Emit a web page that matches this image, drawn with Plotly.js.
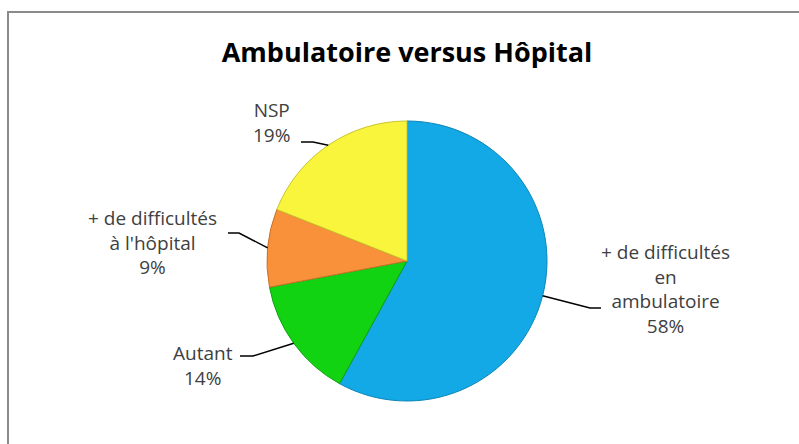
<!DOCTYPE html>
<html>
<head>
<meta charset="utf-8">
<script src="https://cdn.plot.ly/plotly-3.0.1.min.js"></script>
<style>
html,body{margin:0;padding:0;background:#fff;overflow:hidden;}
#chart{width:799px;height:444px;}
</style>
</head>
<body>
<div id="chart"></div>
<script>
// Data
const categories = ["+ de difficultés<br>en<br>ambulatoire", "Autant", "+ de difficultés<br>à l'hôpital", "NSP"];
const values = [58, 14, 9, 19];
const colors = ["#12a9e6", "#12d312", "#f8913a", "#f8f53c"];
const lineColors = ["#0b86b8", "#0ea00e", "#c8702a", "#c9c42a"];

const W = 799, H = 444;
const cx = 407, cy = 261, R = 140;
const px = x => x / W;
const py = y => 1 - y / H;

// label layout (text centre, elbow point, line start near text)
const labelLayout = [
  {tx: 665, ty: 289, start: [601, 308], elbow: [590, 308]},
  {tx: 203, ty: 365, start: [240, 356], elbow: [253, 356]},
  {tx: 152, ty: 243, start: [228, 233], elbow: [239, 233]},
  {tx: 271, ty: 122, start: [301, 142], elbow: [313, 142]}
];

const total = values.reduce((a, b) => a + b, 0);
let cum = 0;
const shapes = [];
const annotations = [];
values.forEach((v, i) => {
  const mid = (cum + v / 2) / total * 2 * Math.PI; // clockwise from top
  cum += v;
  const ex = cx + R * Math.sin(mid);
  const ey = cy - R * Math.cos(mid);
  const L = labelLayout[i];
  shapes.push({
    type: "path", xref: "paper", yref: "paper",
    path: `M ${px(L.start[0])} ${py(L.start[1])} L ${px(L.elbow[0])} ${py(L.elbow[1])} L ${px(ex)} ${py(ey)}`,
    line: {color: "#000000", width: 1.5}
  });
  annotations.push({
    xref: "paper", yref: "paper", x: px(L.tx), y: py(L.ty),
    xanchor: "center", yanchor: "middle", align: "center",
    showarrow: false,
    text: categories[i] + "<br>" + v + "%",
    font: {family: "Open Sans, sans-serif", size: 19, color: "#404040"}
  });
});

// frame
shapes.push({type: "line", xref: "paper", yref: "paper", x0: px(7), x1: px(800), y0: py(12), y1: py(12), line: {color: "#8a8a8a", width: 2}});
shapes.push({type: "line", xref: "paper", yref: "paper", x0: px(8), x1: px(8), y0: py(11), y1: py(445), line: {color: "#8a8a8a", width: 2}});

const trace = {
  type: "pie",
  values: values,
  labels: categories,
  sort: false,
  direction: "clockwise",
  rotation: 0,
  textinfo: "none",
  hoverinfo: "label+percent",
  marker: {colors: colors, line: {color: lineColors, width: 1}},
  domain: {x: [px(cx - R), px(cx + R)], y: [py(cy + R), py(cy - R)]},
  showlegend: false
};

const layout = {
  width: W, height: H,
  margin: {l: 0, r: 0, t: 0, b: 0},
  paper_bgcolor: "#ffffff",
  title: {
    text: "<b>Ambulatoire versus Hôpital</b>",
    x: px(407), xanchor: "center",
    y: py(53), yanchor: "middle",
    font: {family: "Open Sans, sans-serif", size: 27, color: "#000000"}
  },
  shapes: shapes,
  annotations: annotations,
  showlegend: false
};

Plotly.newPlot("chart", [trace], layout, {displayModeBar: false, staticPlot: true});
</script>
</body>
</html>
